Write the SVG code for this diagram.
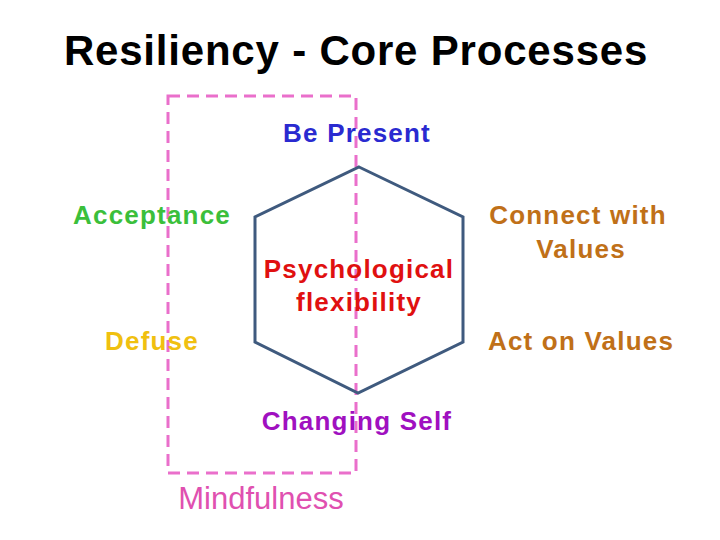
<svg xmlns="http://www.w3.org/2000/svg" width="720" height="540" viewBox="0 0 720 540">
<style>
text{font-family:"Liberation Sans",Arial,sans-serif;font-weight:bold;font-size:26px;letter-spacing:1.2px;text-anchor:middle}
</style>
<rect width="720" height="540" fill="#fff"/>
<text x="356" y="65" fill="#000" style="font-size:42px;letter-spacing:0.8px">Resiliency - Core Processes</text>
<g id="connectors">
<rect x="168" y="96" width="188" height="377" fill="none" stroke="#ea6fcb" stroke-width="3" stroke-dasharray="12,7"/>
</g>
<g id="hexagon"><polygon points="359,167 463,217 463,342 358,393 255,342 255,217" fill="none" stroke="#3f5a7e" stroke-width="3"/></g>
<g id="bepresent"><text x="357" y="142" fill="#2a2ad0">Be Present</text></g>
<g id="acceptance"><text x="152" y="224" fill="#3bbf3b">Acceptance</text></g>
<g id="connect"><text x="578" y="224" fill="#c07018">Connect with</text><text x="581" y="258" fill="#c07018">Values</text></g>
<g id="psych"><text x="359" y="278" fill="#e01010">Psychological</text><text x="359" y="311" fill="#e01010">flexibility</text></g>
<g id="defuse"><text x="152" y="350" fill="#f0c010">Defuse</text></g>
<g id="act"><text x="581" y="350" fill="#c07018">Act on Values</text></g>
<g id="changing"><text x="357" y="430" fill="#a010c0">Changing Self</text></g>
<g id="mindfulness"><text x="261" y="509" fill="#e050b0" style="font-size:31px;font-weight:normal;letter-spacing:0">Mindfulness</text></g>
</svg>
